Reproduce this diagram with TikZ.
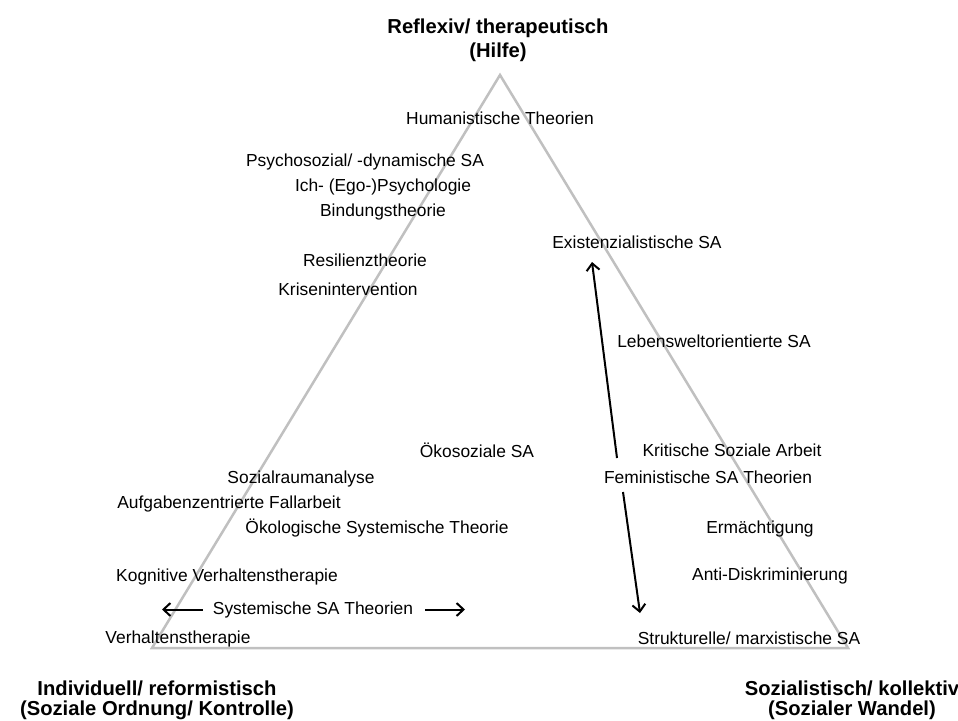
\documentclass[tikz,border=0pt]{standalone}
\usepackage{fontspec}
\setmainfont{Liberation Sans}
\usepackage{tikz}
\usetikzlibrary{arrows.meta}
\definecolor{trigray}{HTML}{C0C0C0}

\begin{document}
\begin{tikzpicture}[
    x=1pt, y=-1pt,
    every node/.style={inner sep=0pt},
    theory/.style={
        anchor=base,
        font=\fontsize{17.4}{20}\selectfont
    },
    pole/.style={
        align=center,
        font=\fontsize{20.2}{24}\selectfont\bfseries
    },
    polelow/.style={
        align=center,
        font=\fontsize{20.2}{20}\selectfont\bfseries
    },
    myarrow/.style={
        -{Straight Barb[length=7pt,width=13pt]},
        line width=2pt
    }
]
\useasboundingbox (0,0) rectangle (958,720);

% Triangle
\coordinate (apex) at (500,75);
\coordinate (leftc) at (152,648);
\coordinate (rightc) at (848,648);
\draw[trigray, line width=2.5pt] (apex) -- (leftc) -- (rightc) -- cycle;

% Poles
\node[pole] (hilfe) at (498,40) {Reflexiv/ therapeutisch\\(Hilfe)};
\node[polelow] (kontrolle) at (157,700) {Individuell/ reformistisch\\(Soziale Ordnung/ Kontrolle)};
\node[polelow] (wandel) at (852,700) {Sozialistisch/ kollektiv\\(Sozialer Wandel)};

% Theories - upper part
\node[theory] (hum) at (500,124) {Humanistische Theorien};
\node[theory] (psy) at (365,166) {Psychosozial/ -dynamische SA};
\node[theory] (ich) at (383,191) {Ich- (Ego-)Psychologie};
\node[theory] (bind) at (383,216) {Bindungstheorie};
\node[theory] (resil) at (365,266) {Resilienztheorie};
\node[theory] (krise) at (348,295) {Krisenintervention};
\node[theory] (exist) at (637,248) {Existenzialistische SA};
\node[theory] (leben) at (714,347) {Lebensweltorientierte SA};

% Theories - left part
\node[theory] (oeko) at (477,457) {Ökosoziale SA};
\node[theory] (sozr) at (301,483) {Sozialraumanalyse};
\node[theory] (aufg) at (229,508) {Aufgabenzentrierte Fallarbeit};
\node[theory] (oekol) at (377,533) {Ökologische Systemische Theorie};
\node[theory] (kogn) at (227,581) {Kognitive Verhaltenstherapie};
\node[theory] (sys) at (313,614) {Systemische SA Theorien};
\node[theory] (verh) at (178,643) {Verhaltenstherapie};

% Theories - right part
\node[theory] (krit) at (732,456) {Kritische Soziale Arbeit};
\node[theory] (fem) at (708,483) {Feministische SA Theorien};
\node[theory] (erm) at (760,533) {Ermächtigung};
\node[theory] (anti) at (770,580) {Anti-Diskriminierung};
\node[theory] (strukt) at (749,644) {Strukturelle/ marxistische SA};

% Arrows
\coordinate (sysL) at (162,608);
\coordinate (sysR) at (465,608);
\draw[myarrow, shorten <=10pt] (sys.west) -- (sys.west -| sysL);
\draw[myarrow, shorten <=12pt] (sys.east) -- (sys.east -| sysR);

\coordinate (femup) at (617,458);
\coordinate (existtip) at (592,262);
\coordinate (femdown) at (623,492);
\coordinate (strukttip) at (640,613);
\draw[myarrow] (femup) -- (existtip);
\draw[myarrow] (femdown) -- (strukttip);

\end{tikzpicture}
\end{document}
